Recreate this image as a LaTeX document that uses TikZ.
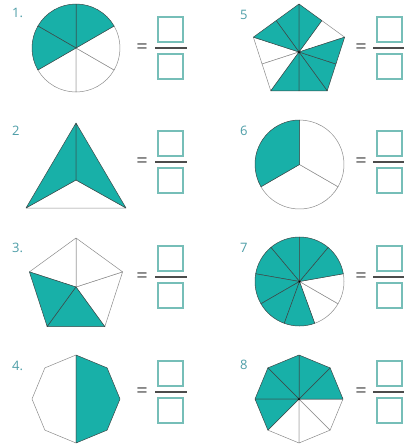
\documentclass[tikz,border=0pt]{standalone}
\usepackage{fontspec}
\setmainfont{Open Sans}
\definecolor{tealf}{RGB}{24,176,168}
\definecolor{lbl}{RGB}{78,158,168}
\definecolor{boxc}{RGB}{118,190,184}
\definecolor{edge}{RGB}{60,72,72}
\definecolor{wedge}{RGB}{140,140,140}
\tikzset{
  tealpart/.style={fill=tealf, draw=edge, line width=0.5pt, line join=round},
  whitepart/.style={fill=white, draw=wedge, line width=0.5pt, line join=round},
  lab/.style={text=lbl, font=\fontsize{13}{13}\selectfont, anchor=west, inner sep=0pt},
  eqsign/.style={text=black!65, font=\fontsize{20}{20}\selectfont, inner sep=0pt},
  answerbox/.style={draw=boxc, line width=1.1pt},
  fracline/.style={draw=black!70, line width=1.4pt},
}
% #1 name, #2 equals x, #3 line x1, #4 line x2, #5 box x1, #6 line y
\newcommand\fracAt[6]{%
  \node[eqsign] (#1eq) at (#2,#6+1) {=};
  \coordinate (#1a) at (#3,#6);
  \coordinate (#1b) at (#4,#6);
  \draw[fracline] (#1a) -- (#1b);
  \draw[answerbox] (#5,#6-31) rectangle ++(25,25);
  \draw[answerbox] (#5,#6+6) rectangle ++(25,25);
}
\begin{document}
\begin{tikzpicture}[x=1pt,y=-1pt]
\useasboundingbox (0,0) rectangle (404,445);
\fill[white] (0,0) rectangle (404,445);

% ---------- 1 : circle, 3/6 ----------
\begin{scope}[shift={(76,48)}, y=1pt]
  \foreach \a in {210,270,330}
    \draw[whitepart] (0,0) -- (\a:44) arc[start angle=\a, end angle=\a+60, radius=44] -- cycle;
  \foreach \a in {30,90,150}
    \draw[tealpart] (0,0) -- (\a:44) arc[start angle=\a, end angle=\a+60, radius=44] -- cycle;
\end{scope}
\node[lab] (l1) at (12,13) {1.};
\fracAt{f1}{142}{155}{187}{158}{48}

% ---------- 2 : triangle, 2/3 ----------
\coordinate (t2a) at (76,123);
\coordinate (t2l) at (26,208);
\coordinate (t2r) at (126,208);
\coordinate (t2i) at (76,180);
\draw[whitepart] (t2l) -- (t2i) -- (t2r) -- cycle;
\draw[tealpart] (t2a) -- (t2l) -- (t2i) -- cycle;
\draw[tealpart] (t2a) -- (t2i) -- (t2r) -- cycle;
\node[lab] (l2) at (12,131) {2};
\fracAt{f2}{142}{155}{187}{158}{162}

% ---------- 3 : pentagon, 2/5 ----------
\begin{scope}[shift={(76,287)}, y=1pt]
  \foreach \a in {306,18,90}
    \draw[whitepart] (0,0) -- (\a:49) -- (\a+72:49) -- cycle;
  \foreach \a in {162,234}
    \draw[tealpart] (0,0) -- (\a:49) -- (\a+72:49) -- cycle;
\end{scope}
\node[lab] (l3) at (12,248) {3.};
\fracAt{f3}{142}{155}{187}{158}{277}

% ---------- 4 : octagon, 1/2 ----------
\begin{scope}[shift={(76,399)}, y=1pt]
  \draw[whitepart] (90:44) -- (135:44) -- (180:44) -- (225:44) -- (270:44) -- cycle;
  \draw[tealpart] (90:44) -- (45:44) -- (0:44) -- (-45:44) -- (-90:44) -- cycle;
\end{scope}
\node[lab] (l4) at (12,366) {4.};
\fracAt{f4}{142}{155}{187}{158}{392}

% ---------- 5 : pentagon in 10 parts, 7/10 ----------
\begin{scope}[shift={(299,52)}, y=1pt]
  \def\Rv{48}\def\Rm{38.83}
  % k even: starts at vertex, ends at midpoint; k odd: starts at midpoint
  \foreach \k in {2,8} {
    \pgfmathsetmacro\aa{90+36*\k}
    \draw[whitepart] (0,0) -- (\aa:\Rv) -- (\aa+36:\Rm) -- cycle;
  }
  \foreach \k in {3} {
    \pgfmathsetmacro\aa{90+36*\k}
    \draw[whitepart] (0,0) -- (\aa:\Rm) -- (\aa+36:\Rv) -- cycle;
  }
  \foreach \k in {0,4,6} {
    \pgfmathsetmacro\aa{90+36*\k}
    \draw[tealpart] (0,0) -- (\aa:\Rv) -- (\aa+36:\Rm) -- cycle;
  }
  \foreach \k in {1,5,7,9} {
    \pgfmathsetmacro\aa{90+36*\k}
    \draw[tealpart] (0,0) -- (\aa:\Rm) -- (\aa+36:\Rv) -- cycle;
  }
  \fill[black] (0,0) circle[radius=1];
\end{scope}
\node[lab] (l5) at (240,15) {5};
\fracAt{f5}{361}{373}{404}{377}{48}

% ---------- 6 : circle, 1/3 ----------
\begin{scope}[shift={(299.5,164.5)}, y=1pt]
  \foreach \a in {210,330}
    \draw[whitepart] (0,0) -- (\a:44.5) arc[start angle=\a, end angle=\a+120, radius=44.5] -- cycle;
  \draw[tealpart] (0,0) -- (90:44.5) arc[start angle=90, end angle=210, radius=44.5] -- cycle;
\end{scope}
\node[lab] (l6) at (240,131) {6};
\fracAt{f6}{361}{373}{404}{377}{162}

% ---------- 7 : circle, 7/9 ----------
\begin{scope}[shift={(299.5,281.5)}, y=1pt]
  \foreach \a in {290,330}
    \draw[whitepart] (0,0) -- (\a:44.5) arc[start angle=\a, end angle=\a+40, radius=44.5] -- cycle;
  \foreach \a in {10,50,90,130,170,210,250}
    \draw[tealpart] (0,0) -- (\a:44.5) arc[start angle=\a, end angle=\a+40, radius=44.5] -- cycle;
  \fill[black] (0,0) circle[radius=1];
\end{scope}
\node[lab] (l7) at (240,248) {7};
\fracAt{f7}{361}{373}{404}{377}{277}

% ---------- 8 : octagon, 5/8 ----------
\begin{scope}[shift={(299,399)}, y=1pt]
  \foreach \a in {225,270,315}
    \draw[whitepart] (0,0) -- (\a:44) -- (\a+45:44) -- cycle;
  \foreach \a in {0,45,90,135,180}
    \draw[tealpart] (0,0) -- (\a:44) -- (\a+45:44) -- cycle;
  \fill[black] (0,0) circle[radius=1];
\end{scope}
\node[lab] (l8) at (240,365) {8};
\fracAt{f8}{361}{373}{404}{377}{392}
\end{tikzpicture}
\end{document}
